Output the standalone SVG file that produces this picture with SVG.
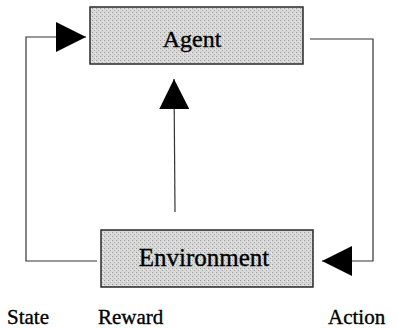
<svg xmlns="http://www.w3.org/2000/svg" width="398" height="328" viewBox="0 0 398 328">
<defs>
<pattern id="stip" width="4" height="4" patternUnits="userSpaceOnUse">
<rect width="4" height="4" fill="#d8d8d8"/>
<rect x="0" y="0" width="1" height="1" fill="#9a9a9a"/>
<rect x="2" y="2" width="1" height="1" fill="#a8a8a8"/>
<rect x="3" y="1" width="1" height="1" fill="#f0f0f0"/>
</pattern>
<marker id="arr" viewBox="0 0 30 30" refX="30" refY="15" markerWidth="30" markerHeight="30" markerUnits="userSpaceOnUse" orient="auto">
<path d="M0,0 L30,15 L0,30 Z" fill="#000"/>
</marker>
<style>
.box{fill:url(#stip);stroke:#2a2a2a;stroke-width:1.5}
.lbl{font-family:"Liberation Serif","Times New Roman",serif;fill:#000;stroke:#000;stroke-width:0.35}
.conn{fill:none;stroke:#333;stroke-width:1.2}
</style>
</defs>
<g id="agent">
<rect class="box" x="90" y="7" width="213" height="57"/>
<text class="lbl" x="192" y="47" font-size="24" text-anchor="middle">Agent</text>
</g>
<g id="environment">
<rect class="box" x="101" y="230" width="212" height="57"/>
<text class="lbl" x="204" y="266" font-size="25" text-anchor="middle">Environment</text>
</g>
<g id="connectors">
<path class="conn" d="M97,261 L26,261 L26,37 L86,37" marker-end="url(#arr)"/>
<path class="conn" d="M310,39 L373,39 L373,261 L322,261" marker-end="url(#arr)"/>
<path class="conn" d="M175,212 L174,79" marker-end="url(#arr)"/>
</g>
<g id="labels">
<text class="lbl" x="7" y="324" font-size="21">State</text>
<text class="lbl" x="98" y="324" font-size="21">Reward</text>
<text class="lbl" x="328" y="324" font-size="21">Action</text>
</g>
</svg>
